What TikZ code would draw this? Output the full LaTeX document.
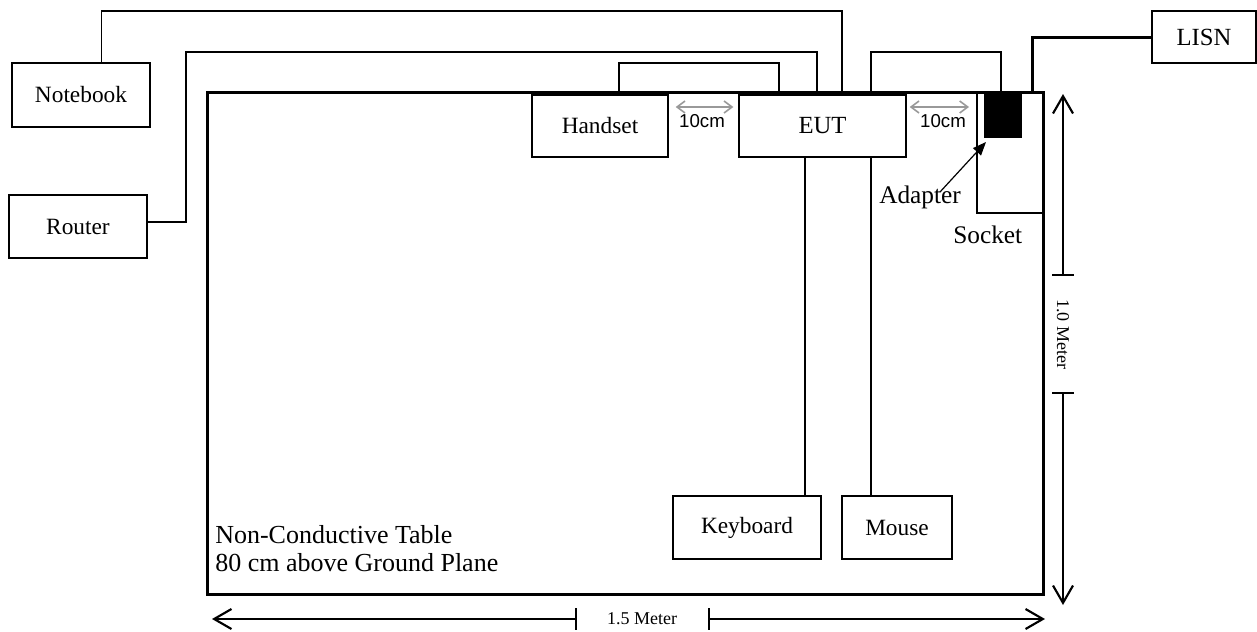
\documentclass[tikz,border=0pt]{standalone}
\usepackage{fontspec}
\setmainfont{Liberation Serif}
\setsansfont{Liberation Sans}
\usetikzlibrary{arrows.meta}
\begin{document}
\begin{tikzpicture}[x=0.75pt,y=-0.75pt,
  box/.style={draw,line width=1pt,inner sep=0pt,font=\fontsize{17.5}{20}\selectfont},
  bigbox/.style={box,font=\fontsize{18.5}{21}\selectfont},
  wire/.style={line width=1pt},
  thickwire/.style={line width=2.25pt},
  gaptip/.tip={Straight Barb[length=6pt,width=9pt,line width=1.2pt]},
  gaparrow/.style={line width=1.2pt,color=black!40,{gaptip}-{gaptip}},
  gaplabel/.style={font=\sffamily\fontsize{14}{16}\selectfont,anchor=base,inner sep=0pt},
  lbl/.style={font=\fontsize{19}{22}\selectfont,anchor=base west,inner sep=0pt},
  dimlabel/.style={font=\fontsize{13.5}{16}\selectfont,inner sep=0pt},
  dimtip/.tip={Straight Barb[length=13pt,width=15pt,line width=1.6pt]},
  bartip/.tip={Bar[width=16pt,line width=1.5pt]}
]
\useasboundingbox (0,0) rectangle (1257,632);

% table
\draw[line width=2.25pt] (207,92) rectangle (1043,594);

% boxes
\node[box,minimum width=103.5pt,minimum height=48pt] (nb) at (81,95) {Notebook};
\node[box,minimum width=103.5pt,minimum height=47.25pt] (rt) at (78,226.5) {Router};
\node[box,minimum width=102pt,minimum height=46.5pt] (hs) at (600,126) {Handset};
\node[bigbox,minimum width=125.25pt,minimum height=46.5pt] (eut) at (822.5,126) {EUT};
\node[box,minimum width=111pt,minimum height=47.25pt] (kb) at (747,527.5) {Keyboard};
\node[box,minimum width=82.5pt,minimum height=47.25pt] (ms) at (897,527.5) {Mouse};
\node[bigbox,minimum width=78pt,minimum height=39pt] (lisn) at (1204,37) {LISN};

% socket and adapter
\draw[wire] (977,92) -- (977,213) -- (1043,213);
\coordinate (sock) at (977,126);
\node[fill=black,inner sep=0pt,minimum width=28.5pt,minimum height=33.75pt] (adp) at (1003,115.5) {};

% wires over the table
\draw[wire] ([xshift=15.5pt]nb.north) |- (842,11) -- (842,92);
\draw[wire] ([yshift=3.4pt]rt.east) -| (186,52) -| (817,92);
\draw[wire] (619,92) |- (779,63) -- (779,92);
\draw[wire] (871,92) |- (1001,52) -- (1001,92);
\draw[thickwire] (1032,92) |- (lisn.west);

% wires to keyboard and mouse
\coordinate (kx) at (805,0);
\coordinate (mx) at (871,0);
\draw[wire] (eut.south -| kx) -- (kb.north -| kx);
\draw[wire] (eut.south -| mx) -- (ms.north -| mx);

% 10 cm spacing arrows
\draw[gaparrow] ([xshift=5.25pt,yshift=14.25pt]hs.east) -- ([xshift=-3.75pt,yshift=14.25pt]eut.west);
\draw[gaparrow] ([xshift=2.25pt,yshift=14.25pt]eut.east) -- ([xshift=-6pt,yshift=14.25pt]sock);
\node[gaplabel] (g1) at (702,127) {10cm};
\node[gaplabel] (g2) at (943,127) {10cm};

% adapter / socket labels
\node[lbl] (adl) at (879,203) {Adapter};
\node[lbl] (sol) at (953,243) {Socket};
\draw[line width=0.9pt,-{Triangle[length=10pt,width=8pt]}] (940,192) -- (986,142);

% table text
\node[font=\fontsize{19.5}{22}\selectfont,anchor=base west,inner sep=0pt] (t1) at (215,543) {Non-Conductive Table};
\node[font=\fontsize{19.5}{22}\selectfont,anchor=base west,inner sep=0pt] (t2) at (215,571) {80 cm above Ground Plane};

% 1.5 Meter dimension
\draw[line width=1.5pt,{dimtip}-{bartip}] (212,619) -- (577,619);
\draw[line width=1.5pt,{bartip}-{dimtip}] (708,619) -- (1045,619);
\node[dimlabel] (w) at (642,619) {1.5 Meter};

% 1.0 Meter dimension
\draw[line width=1pt,{dimtip}-{bartip}] (1063,94) -- (1063,276);
\draw[line width=1pt,{bartip}-{dimtip}] (1063,392) -- (1063,605);
\node[dimlabel,rotate=-90] (h) at (1063,334) {1.0 Meter};
\end{tikzpicture}
\end{document}
